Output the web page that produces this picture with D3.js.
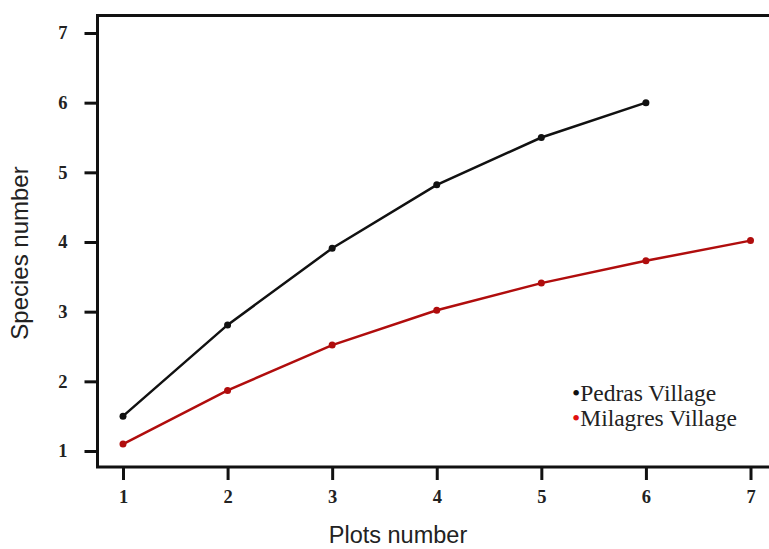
<!DOCTYPE html>
<head>
  <meta charset="utf-8">
  <script src="https://d3js.org/d3.v7.min.js"></script>
  <style>
    body { margin: 0; background: #fff; }
    svg { width: 769px; height: 549px; display: block; }
  </style>
</head>

<body>
  <svg></svg>

  <script>
    const width = 769;
    const height = 549;

    // data
    const plots = [1, 2, 3, 4, 5, 6, 7];
    const pedras = [1.5, 2.81, 3.91, 4.82, 5.5, 6.0];
    const milagres = [1.1, 1.87, 2.52, 3.02, 3.41, 3.73, 4.02];
    const xTicks = [1, 2, 3, 4, 5, 6, 7];
    const yTicks = [1, 2, 3, 4, 5, 6, 7];
    const seriesNames = ['Pedras Village', 'Milagres Village'];

    const frame = { left: 97.5, top: 15.5, bottom: 467, right: 770 };

    const x = d3.scaleLinear().domain([1, 7]).range([123, 750.5]);
    const y = d3.scaleLinear().domain([1, 7]).range([451, 33]);

    const svg = d3.select('svg');

    // frame: top, left, bottom (right side is cut off in the original)
    svg.append('path')
      .attr('d', `M${frame.right},${frame.top}H${frame.left}V${frame.bottom}H${frame.right}`)
      .attr('fill', 'none')
      .attr('stroke', '#111')
      .attr('stroke-width', 3);

    // axes
    const xAxis = d3.axisBottom(x).tickValues(xTicks).tickFormat(d3.format('d'))
      .tickSize(13).tickPadding(10);
    const yAxis = d3.axisLeft(y).tickValues(yTicks).tickFormat(d3.format('d'))
      .tickSize(13).tickPadding(17);

    const gx = svg.append('g').attr('transform', `translate(0,${frame.bottom})`).call(xAxis);
    const gy = svg.append('g').attr('transform', `translate(${frame.left},0)`).call(yAxis);

    [gx, gy].forEach(g => {
      g.select('.domain').remove();
      g.selectAll('.tick line').attr('stroke', '#111').attr('stroke-width', 3);
      g.selectAll('.tick text')
        .attr('fill', '#222')
        .style('font-family', '"Liberation Serif", "DejaVu Serif", serif')
        .style('font-weight', 'bold')
        .style('font-size', '18.5px');
    });

    // lines
    const line = d3.line()
      .x((d, i) => x(plots[i]))
      .y(d => y(d));

    const series = [
      { name: seriesNames[0], values: pedras, color: '#111' },
      { name: seriesNames[1], values: milagres, color: '#b00d0d' },
    ];

    series.forEach(s => {
      svg.append('path')
        .datum(s.values)
        .attr('d', line)
        .attr('fill', 'none')
        .attr('stroke', s.color)
        .attr('stroke-width', 2.5);

      svg.selectAll(null)
        .data(s.values).enter().append('circle')
        .attr('cx', (d, i) => x(plots[i]))
        .attr('cy', d => y(d))
        .attr('r', 3.5)
        .attr('fill', s.color);
    });

    // axis titles
    svg.append('text')
      .attr('x', 398)
      .attr('y', 543)
      .attr('text-anchor', 'middle')
      .style('font-family', '"Liberation Sans", Arial, sans-serif')
      .style('font-size', '23.5px')
      .attr('fill', '#222')
      .text('Plots number');

    svg.append('text')
      .attr('transform', 'translate(28,253)rotate(-90)')
      .attr('text-anchor', 'middle')
      .style('font-family', '"Liberation Sans", Arial, sans-serif')
      .style('font-size', '24px')
      .attr('fill', '#222')
      .text('Species number');

    // legend
    const legendColors = ['#111', '#e01010'];
    const legend = svg.append('g').attr('transform', 'translate(572,401)');
    seriesNames.forEach((name, i) => {
      const t = legend.append('text')
        .attr('y', i * 25)
        .style('font-family', '"Liberation Serif", "Times New Roman", serif')
        .style('font-size', '23.5px')
        .attr('fill', '#222');
      t.append('tspan').attr('fill', legendColors[i]).text('\u2022');
      t.append('tspan').text(name);
    });
  </script>
</body>
